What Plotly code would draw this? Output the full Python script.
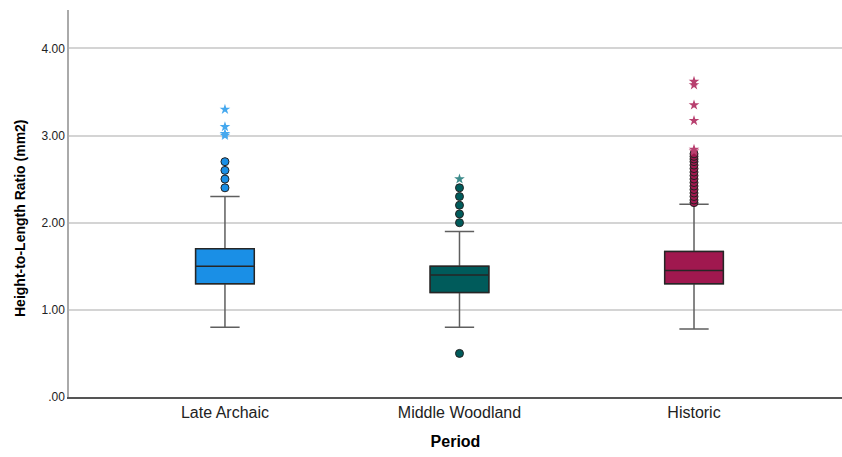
import plotly.graph_objects as go

categories = ["Late Archaic", "Middle Woodland", "Historic"]
q1 = [1.30, 1.20, 1.30]
median = [1.50, 1.40, 1.45]
q3 = [1.70, 1.50, 1.67]
lower_whisker = [0.80, 0.80, 0.78]
upper_whisker = [2.30, 1.90, 2.21]

circle_outliers = [
    [2.40, 2.50, 2.60, 2.70],
    [0.50, 2.00, 2.10, 2.20, 2.30, 2.40],
    [2.23, 2.26, 2.30, 2.34, 2.38, 2.42, 2.46, 2.50, 2.54, 2.58,
     2.62, 2.66, 2.70, 2.73, 2.76, 2.79],
]
star_outliers = [
    [3.00, 3.02, 3.10, 3.30],
    [2.50],
    [2.82, 2.84, 3.17, 3.35, 3.58, 3.62],
]

box_colors = ["#1A8FE6", "#005B5B", "#A0184F"]
star_colors = ["#45A8EE", "#3D8B8B", "#B8406F"]

y_tickvals = [0, 1, 2, 3, 4]
y_ticktext = [".00", "1.00", "2.00", "3.00", "4.00"]
y_title = "Height-to-Length Ratio (mm2)"

fig = go.Figure()
for i, cat in enumerate(categories):
    # whiskers (gray)
    fig.add_trace(go.Box(
        x=[cat], q1=[q1[i]], median=[median[i]], q3=[q3[i]],
        lowerfence=[lower_whisker[i]], upperfence=[upper_whisker[i]],
        fillcolor=box_colors[i],
        line=dict(color="#5f5f5f", width=1.5),
        width=0.25,
        whiskerwidth=0.5,
        boxpoints=False,
        showlegend=False,
        hoverinfo="skip",
    ))
    # box body with dark outline and median
    fig.add_trace(go.Box(
        x=[cat], q1=[q1[i]], median=[median[i]], q3=[q3[i]],
        lowerfence=[q1[i]], upperfence=[q3[i]],
        fillcolor=box_colors[i],
        line=dict(color="#262626", width=1.5),
        width=0.25,
        whiskerwidth=0,
        boxpoints=False,
        showlegend=False,
    ))
    fig.add_trace(go.Scatter(
        x=[cat] * len(circle_outliers[i]), y=circle_outliers[i],
        mode="markers",
        marker=dict(symbol="circle", size=8, color=box_colors[i],
                    line=dict(color="#222222", width=1)),
        showlegend=False,
    ))
    fig.add_trace(go.Scatter(
        x=[cat] * len(star_outliers[i]), y=star_outliers[i],
        mode="markers",
        marker=dict(symbol="star", size=8, color=star_colors[i],
                    line=dict(width=0)),
        showlegend=False,
    ))

fig.add_annotation(
    text="<b>" + y_title + "</b>",
    xref="paper", yref="paper",
    x=-0.0634, y=0.4625,
    xanchor="center", yanchor="middle",
    textangle=-90, showarrow=False,
    font=dict(size=14, color="#000000"),
)

fig.update_layout(
    width=842, height=457,
    margin=dict(l=69, r=0, t=10, b=60),
    paper_bgcolor="white", plot_bgcolor="white",
    font=dict(family="Liberation Sans, Arial, sans-serif", color="#000000"),
    boxmode="overlay",
    xaxis=dict(
        type="category",
        range=[-0.665, 2.631],
        showgrid=False,
        showline=True, linecolor="#555555", linewidth=1.5,
        ticks="", tickfont=dict(size=16, color="#222222"),
        title=dict(text="<b>Period</b>", font=dict(size=16), standoff=16),
    ),
    yaxis=dict(
        range=[0, 4.44],
        tickvals=y_tickvals, ticktext=y_ticktext,
        showgrid=True, gridcolor="#d4d4d4", gridwidth=1.5,
        showline=True, linecolor="#aaaaaa", linewidth=1.5,
        zeroline=False,
        ticks="", tickfont=dict(size=12, color="#222222"),
    ),
)

fig.write_html(
    "out.html",
    config={"displayModeBar": False},
    post_script="document.body.style.margin='0px';document.body.style.overflow='hidden';",
)
